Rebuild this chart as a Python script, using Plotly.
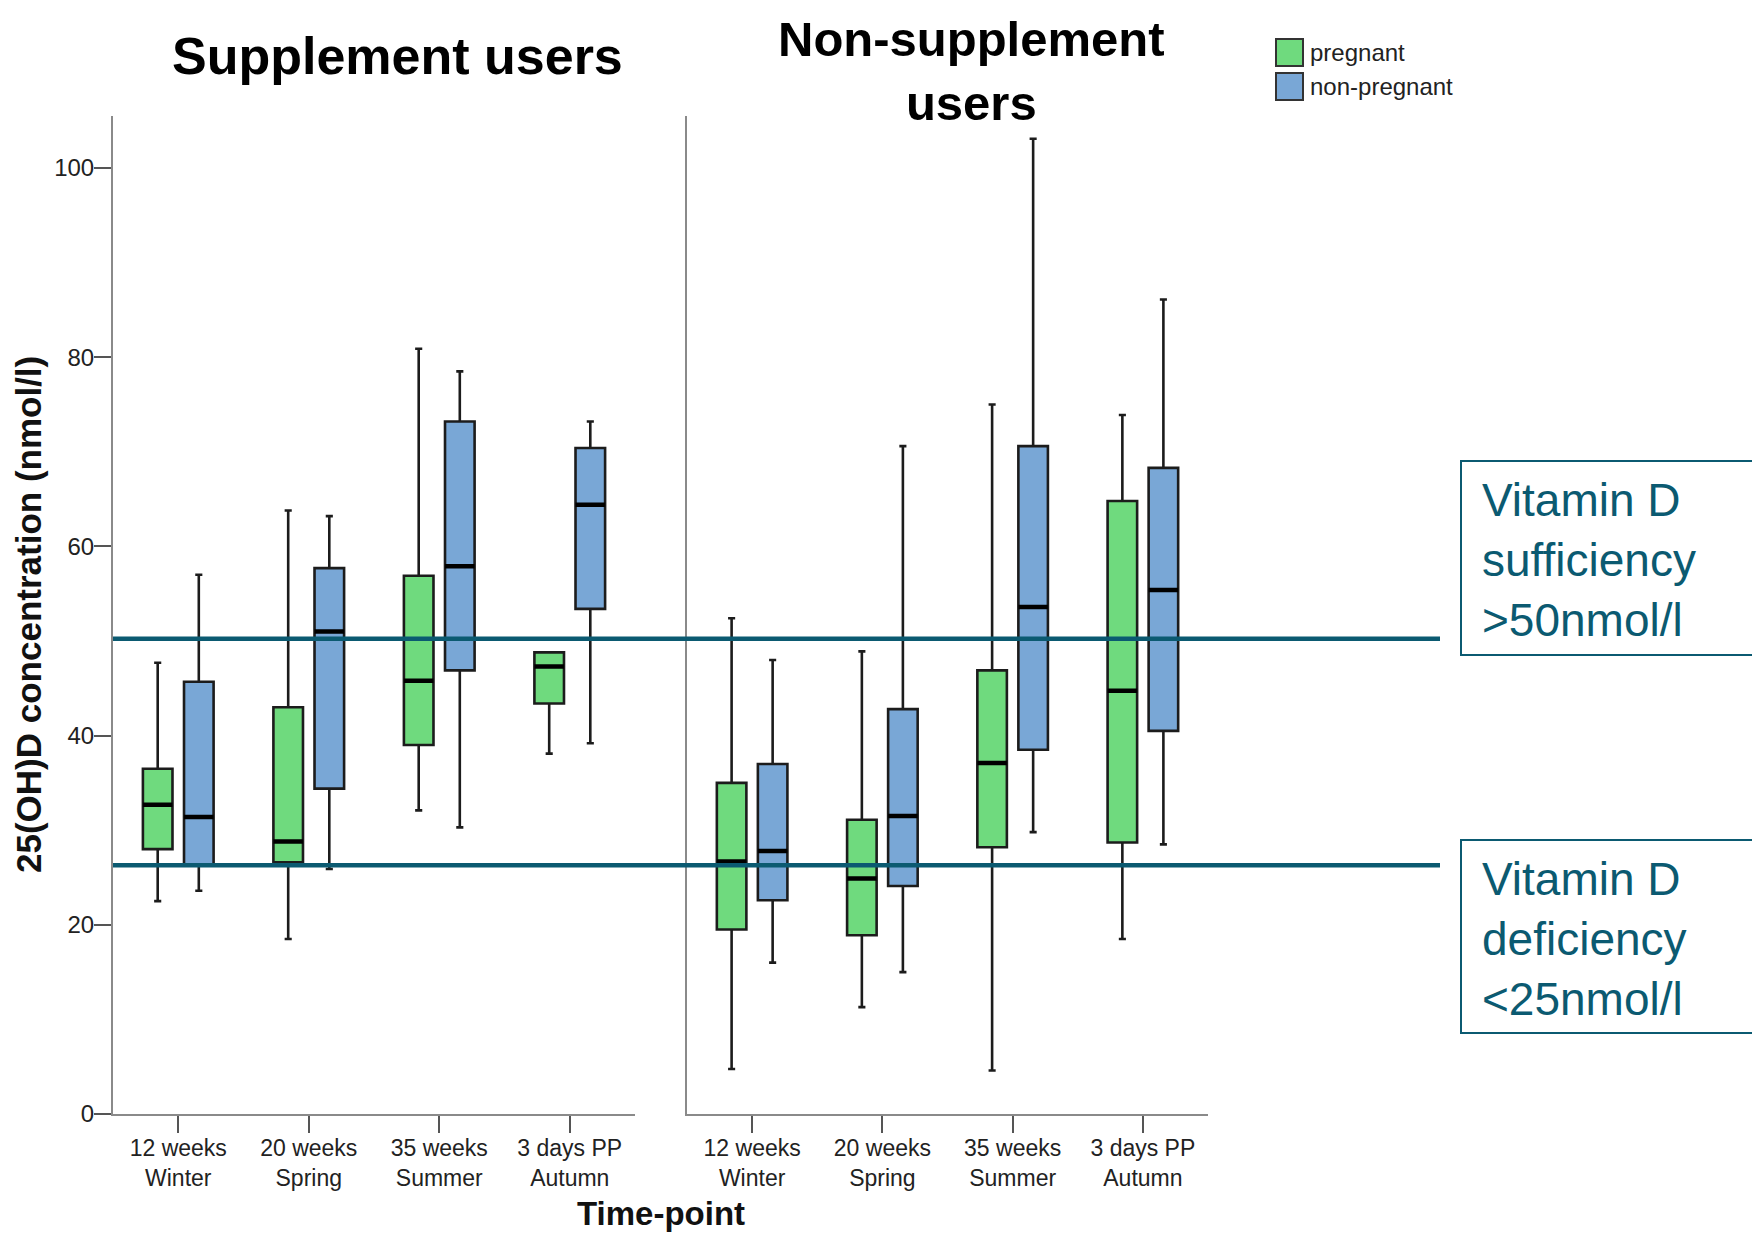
import plotly.graph_objects as go

# ---------------- data ----------------
categories = ["12 weeks<br>Winter", "20 weeks<br>Spring", "35 weeks<br>Summer", "3 days PP<br>Autumn"]
panels = ["Supplement users", "Non-supplement<br>users"]
groups = ["pregnant", "non-pregnant"]

# Supplement users
sup_preg_low = [22.5, 18.5, 32.1, 38.1]
sup_preg_q1 = [28.0, 26.6, 39.0, 43.4]
sup_preg_med = [32.7, 28.8, 45.8, 47.3]
sup_preg_q3 = [36.5, 43.0, 56.9, 48.8]
sup_preg_up = [47.7, 63.8, 80.9, 48.8]

sup_np_low = [23.6, 25.9, 30.3, 39.2]
sup_np_q1 = [26.4, 34.4, 46.9, 53.4]
sup_np_med = [31.4, 51.0, 57.9, 64.4]
sup_np_q3 = [45.7, 57.7, 73.2, 70.4]
sup_np_up = [57.0, 63.2, 78.5, 73.2]

# Non-supplement users
non_preg_low = [4.75, 11.3, 4.6, 18.5]
non_preg_q1 = [19.5, 18.9, 28.2, 28.7]
non_preg_med = [26.7, 24.9, 37.1, 44.75]
non_preg_q3 = [35.0, 31.1, 46.9, 64.8]
non_preg_up = [52.4, 48.9, 75.0, 73.9]

non_np_low = [16.0, 15.0, 29.8, 28.5]
non_np_q1 = [22.6, 24.1, 38.5, 40.5]
non_np_med = [27.8, 31.5, 53.6, 55.4]
non_np_q3 = [37.0, 42.8, 70.6, 68.3]
non_np_up = [48.0, 70.6, 103.1, 86.1]

y_ticks = [0, 20, 40, 60, 80, 100]
threshold_values = [50.25, 26.3]
threshold_labels = ["Vitamin D<br>sufficiency<br>&gt;50nmol/l",
                    "Vitamin D<br>deficiency<br>&lt;25nmol/l"]

# ---------------- style / layout ----------------
OFF = 8  # default page body margin
W, H = 1760 - OFF, 1237 - OFF
ml = 113 - OFF
mt = 116 - OFF
mr = W - (1208 - OFF)
mb = H - (1114 - OFF)
GREEN = "#6FDA7E"
BLUE = "#79A7D6"
TEAL = "#0B5A71"
OUTLINE = "#1c1c1c"
AXIS = "#8a8a8a"
FONT = "Liberation Sans, Arial, sans-serif"


def fx(px):
    """window pixel x -> paper fraction"""
    return (px - OFF - ml) / (W - ml - mr)


def fy(py):
    """window pixel y -> paper fraction"""
    return (H - mb - (py - OFF)) / (H - mt - mb)


fig = go.Figure()

panel_data = [
    ("x", "y", [(sup_preg_low, sup_preg_q1, sup_preg_med, sup_preg_q3, sup_preg_up),
                (sup_np_low, sup_np_q1, sup_np_med, sup_np_q3, sup_np_up)]),
    ("x2", "y2", [(non_preg_low, non_preg_q1, non_preg_med, non_preg_q3, non_preg_up),
                  (non_np_low, non_np_q1, non_np_med, non_np_q3, non_np_up)]),
]
colors = [GREEN, BLUE]

for xa, ya, series in panel_data:
    for gi, (lo, q1, med, q3, up) in enumerate(series):
        fig.add_trace(go.Box(
            x=categories, lowerfence=lo, q1=q1, median=med, q3=q3, upperfence=up,
            name=groups[gi], offsetgroup=groups[gi], xaxis=xa, yaxis=ya,
            fillcolor=colors[gi], line=dict(color=OUTLINE, width=2.6),
            whiskerwidth=0.24, boxpoints=False, showlegend=False, hoverinfo="skip",
        ))
    # thick black median lines drawn over the boxes
    for gi, (lo, q1, med, q3, up) in enumerate(series):
        fig.add_trace(go.Box(
            x=categories, lowerfence=med, q1=med, median=med, q3=med, upperfence=med,
            name=groups[gi], offsetgroup=groups[gi], xaxis=xa, yaxis=ya,
            fillcolor="rgba(0,0,0,0)", line=dict(color="#000000", width=4.5),
            whiskerwidth=0, boxpoints=False, showlegend=False, hoverinfo="skip",
        ))

x_common = dict(
    type="category", showline=True, linecolor=AXIS, linewidth=2,
    ticks="outside", ticklen=17, tickwidth=2, tickcolor="#555555",
    tickfont=dict(family=FONT, size=23, color="#222222"), ticklabelstandoff=-5,
    showgrid=False, zeroline=False, fixedrange=True,
)
fig.update_layout(
    width=W, height=H,
    margin=dict(l=ml, r=mr, t=mt, b=mb),
    paper_bgcolor="white", plot_bgcolor="white",
    boxmode="group", boxgap=0.37, boxgroupgap=0.28,
    showlegend=False,
    xaxis=dict(x_common, domain=[0, fx(635)], anchor="y"),
    xaxis2=dict(x_common, domain=[fx(687), 1], anchor="y2"),
    yaxis=dict(range=[0, 105.5], tickvals=y_ticks, showline=True, linecolor=AXIS, linewidth=2,
               ticks="outside", ticklen=17, tickwidth=2, tickcolor="#555555",
               tickfont=dict(family=FONT, size=24, color="#222222"), ticklabelstandoff=-5,
               showgrid=False, zeroline=False, anchor="x", fixedrange=True),
    yaxis2=dict(range=[0, 105.5], tickvals=y_ticks, showline=True, linecolor=AXIS, linewidth=2,
                ticks="", showticklabels=False, showgrid=False, zeroline=False,
                anchor="x2", matches="y", fixedrange=True),
)

shapes = []
annotations = []

# threshold lines and their label boxes
label_boxes = [(461, 655), (840, 1033)]
for val, lab, (top, bot) in zip(threshold_values, threshold_labels, label_boxes):
    shapes.append(dict(type="line", xref="paper", yref="y", x0=0, x1=fx(1440), y0=val, y1=val,
                       line=dict(color=TEAL, width=4.5), layer="above"))
    shapes.append(dict(type="rect", xref="paper", yref="paper", x0=fx(1461), x1=fx(1758),
                       y0=fy(bot), y1=fy(top), line=dict(color=TEAL, width=2),
                       fillcolor="rgba(0,0,0,0)"))
    annotations.append(dict(text=lab, xref="paper", yref="paper", x=fx(1480), y=fy((top + bot) / 2 + 2),
                            xanchor="left", yanchor="middle", align="left", showarrow=False,
                            font=dict(family=FONT, size=46, color=TEAL)))

# panel titles
annotations.append(dict(text="<b>%s</b>" % panels[0], xref="paper", yref="paper", x=fx(397), y=fy(56),
                        xanchor="center", yanchor="middle", showarrow=False,
                        font=dict(family=FONT, size=52, color="black")))
annotations.append(dict(text="<b>%s</b>" % panels[1], xref="paper", yref="paper", x=fx(971), y=fy(71),
                        xanchor="center", yanchor="middle", showarrow=False,
                        font=dict(family=FONT, size=49, color="black")))

# axis titles
annotations.append(dict(text="<b>25(OH)D concentration (nmol/l)</b>", xref="paper", yref="paper",
                        x=fx(28), y=fy(615), xanchor="center", yanchor="middle", textangle=-90,
                        showarrow=False, font=dict(family=FONT, size=35, color="#111111")))
annotations.append(dict(text="<b>Time-point</b>", xref="paper", yref="paper",
                        x=fx(661), y=fy(1213), xanchor="center", yanchor="middle",
                        showarrow=False, font=dict(family=FONT, size=33, color="#111111")))

# legend
legend_rows = [(39, 66), (73, 100)]
for gi, (t, b) in enumerate(legend_rows):
    shapes.append(dict(type="rect", xref="paper", yref="paper", x0=fx(1276), x1=fx(1303),
                       y0=fy(b), y1=fy(t), fillcolor=colors[gi], line=dict(color="#333333", width=2)))
    annotations.append(dict(text=groups[gi], xref="paper", yref="paper", x=fx(1308), y=fy((t + b) / 2),
                            xanchor="left", yanchor="middle", showarrow=False,
                            font=dict(family=FONT, size=24, color="#222222")))

fig.update_layout(shapes=shapes, annotations=annotations)
fig.write_html("out.html")
